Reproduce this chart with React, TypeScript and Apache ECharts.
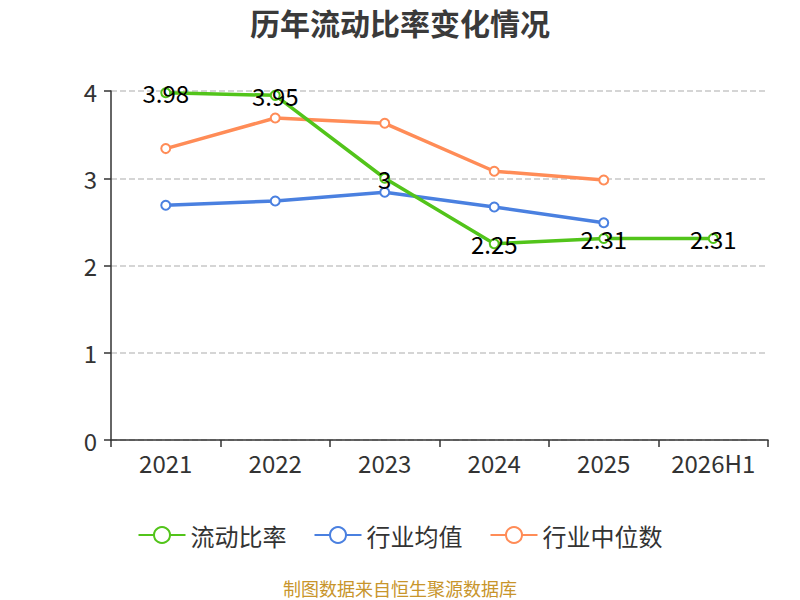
import { useEffect, useRef } from 'react'
import * as echarts from 'echarts'

const years = ['2021', '2022', '2023', '2024', '2025', '2026H1']
const currentRatio = [3.98, 3.95, 3, 2.25, 2.31, 2.31]
const industryAvg = [2.69, 2.74, 2.84, 2.67, 2.49, null]
const industryMedian = [3.34, 3.69, 3.63, 3.08, 2.98, null]

const fontFamily = '"Noto Sans CJK SC", "Noto Sans", sans-serif'

export default function App() {
  const chartRef = useRef<HTMLDivElement>(null)

  useEffect(() => {
    if (!chartRef.current) return
    const chart = echarts.init(chartRef.current, null, { renderer: 'svg' })

    const option = {
      animation: false,
      textStyle: { fontFamily },
      title: {
        text: '历年流动比率变化情况',
        left: 'center',
        top: 2,
        textStyle: { fontSize: 30, fontWeight: 'bold', color: '#3a3a3a' },
      },
      grid: { left: 111, right: 32, top: 91, bottom: 160 },
      legend: {
        top: 518,
        itemWidth: 47,
        itemHeight: 20,
        itemGap: 27,
        textStyle: { fontSize: 24, color: '#333' },
        data: ['流动比率', '行业均值', '行业中位数'],
      },
      graphic: [
        {
          type: 'text',
          left: 'center',
          top: 579,
          style: {
            text: '制图数据来自恒生聚源数据库',
            fill: '#c8952b',
            fontSize: 18,
            fontFamily,
          },
        },
      ],
      xAxis: {
        type: 'category',
        data: years,
        boundaryGap: true,
        axisLine: { lineStyle: { color: '#333', width: 1.5 } },
        axisTick: { show: true, length: 7, lineStyle: { color: '#333', width: 1.5 } },
        axisLabel: { fontSize: 24, color: '#333', margin: 10 },
      },
      yAxis: {
        type: 'value',
        min: 0,
        max: 4,
        interval: 1,
        axisLine: { show: true, lineStyle: { color: '#333', width: 1.5 } },
        axisTick: { show: true, length: 7, lineStyle: { color: '#333', width: 1.5 } },
        axisLabel: { fontSize: 24, color: '#333', margin: 14 },
        splitLine: { lineStyle: { type: 'dashed', color: '#c8c8c8', width: 1.5 } },
      },
      series: [
        {
          name: '流动比率',
          type: 'line',
          data: currentRatio,
          symbol: 'emptyCircle',
          symbolSize: 9,
          lineStyle: { width: 3.5, color: '#52c41a' },
          itemStyle: { color: '#52c41a', borderWidth: 2 },
          label: {
            show: true,
            position: 'inside',
            fontSize: 24,
            color: '#000',
          },
          z: 3,
        },
        {
          name: '行业均值',
          type: 'line',
          data: industryAvg,
          symbol: 'emptyCircle',
          symbolSize: 9,
          lineStyle: { width: 3.5, color: '#4a80e0' },
          itemStyle: { color: '#4a80e0', borderWidth: 2 },
          z: 2,
        },
        {
          name: '行业中位数',
          type: 'line',
          data: industryMedian,
          symbol: 'emptyCircle',
          symbolSize: 9,
          lineStyle: { width: 3.5, color: '#ff8c57' },
          itemStyle: { color: '#ff8c57', borderWidth: 2 },
          z: 2,
        },
      ],
    }

    chart.setOption(option)
    return () => {
      chart.dispose()
    }
  }, [])

  return (
    <div
      ref={chartRef}
      style={{ position: 'absolute', left: 0, top: 0, width: 800, height: 600 }}
    />
  )
}
